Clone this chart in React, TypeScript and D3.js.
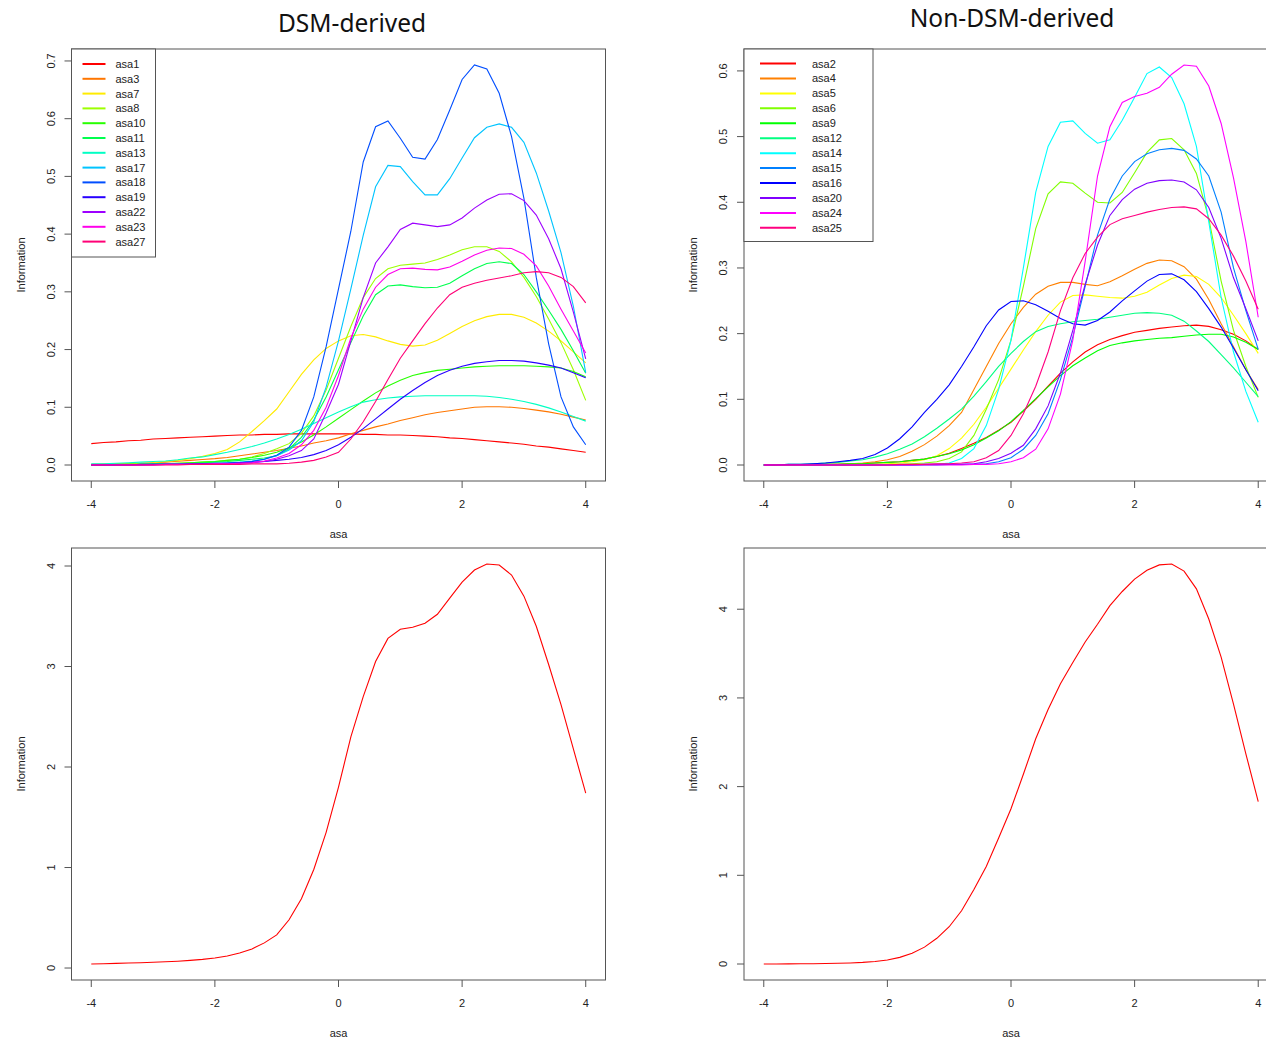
import React from 'react';
import * as d3 from 'd3';

// ability grid used by all information curves
const THETA = [
  -4, -3.8, -3.6, -3.4, -3.2, -3, -2.8, -2.6, -2.4, -2.2,
  -2, -1.8, -1.6, -1.4, -1.2, -1, -0.8, -0.6, -0.4, -0.2,
  0, 0.2, 0.4, 0.6, 0.8, 1, 1.2, 1.4, 1.6, 1.8,
  2, 2.2, 2.4, 2.6, 2.8, 3, 3.2, 3.4, 3.6, 3.8,
  4,
];

// DSM-derived item information
const asa1 = [0.037, 0.039, 0.040, 0.042, 0.043, 0.045, 0.046, 0.047, 0.048, 0.049, 0.050, 0.051, 0.052, 0.052, 0.053, 0.053, 0.054, 0.054, 0.054, 0.054, 0.054, 0.054, 0.053, 0.053, 0.052, 0.052, 0.051, 0.050, 0.049, 0.047, 0.046, 0.044, 0.042, 0.040, 0.038, 0.036, 0.033, 0.031, 0.028, 0.025, 0.022];
const asa3 = [0.001, 0.0015, 0.002, 0.0025, 0.003, 0.004, 0.005, 0.0065, 0.008, 0.0095, 0.011, 0.013, 0.016, 0.019, 0.022, 0.025, 0.029, 0.033, 0.038, 0.042, 0.047, 0.054, 0.060, 0.066, 0.071, 0.077, 0.082, 0.087, 0.091, 0.094, 0.097, 0.100, 0.101, 0.101, 0.100, 0.098, 0.095, 0.092, 0.088, 0.083, 0.078];
const asa7 = [0, 0.001, 0.001, 0.002, 0.003, 0.004, 0.006, 0.008, 0.011, 0.015, 0.020, 0.027, 0.040, 0.058, 0.077, 0.097, 0.127, 0.157, 0.182, 0.202, 0.215, 0.224, 0.226, 0.222, 0.215, 0.209, 0.206, 0.208, 0.216, 0.228, 0.240, 0.250, 0.257, 0.261, 0.261, 0.256, 0.246, 0.232, 0.215, 0.196, 0.177];
const asa8 = [0, 0, 0.001, 0.001, 0.001, 0.002, 0.002, 0.003, 0.004, 0.005, 0.006, 0.008, 0.010, 0.014, 0.020, 0.028, 0.037, 0.055, 0.085, 0.130, 0.185, 0.240, 0.290, 0.323, 0.340, 0.346, 0.348, 0.350, 0.356, 0.364, 0.373, 0.378, 0.378, 0.370, 0.352, 0.325, 0.292, 0.253, 0.212, 0.165, 0.112];
const asa10 = [0, 0, 0.001, 0.001, 0.001, 0.002, 0.002, 0.003, 0.004, 0.005, 0.006, 0.008, 0.010, 0.013, 0.017, 0.022, 0.030, 0.040, 0.052, 0.066, 0.081, 0.096, 0.111, 0.125, 0.137, 0.147, 0.155, 0.160, 0.164, 0.166, 0.168, 0.170, 0.171, 0.172, 0.172, 0.172, 0.171, 0.170, 0.168, 0.162, 0.153];
const asa11 = [0, 0, 0, 0.001, 0.001, 0.001, 0.002, 0.002, 0.003, 0.004, 0.005, 0.006, 0.008, 0.010, 0.012, 0.016, 0.028, 0.048, 0.078, 0.118, 0.165, 0.212, 0.258, 0.295, 0.310, 0.312, 0.309, 0.307, 0.308, 0.315, 0.328, 0.340, 0.349, 0.352, 0.349, 0.330, 0.300, 0.268, 0.235, 0.198, 0.159];
const asa13 = [0.002, 0.002, 0.003, 0.004, 0.005, 0.006, 0.007, 0.009, 0.012, 0.014, 0.018, 0.022, 0.027, 0.032, 0.038, 0.045, 0.053, 0.062, 0.072, 0.082, 0.092, 0.101, 0.109, 0.113, 0.116, 0.118, 0.119, 0.120, 0.120, 0.120, 0.120, 0.120, 0.119, 0.117, 0.114, 0.110, 0.105, 0.099, 0.092, 0.084, 0.076];
const asa17 = [0, 0, 0, 0, 0.001, 0.001, 0.001, 0.001, 0.002, 0.002, 0.003, 0.004, 0.005, 0.007, 0.010, 0.016, 0.026, 0.042, 0.075, 0.135, 0.215, 0.305, 0.398, 0.482, 0.519, 0.517, 0.491, 0.468, 0.468, 0.496, 0.532, 0.567, 0.585, 0.591, 0.585, 0.559, 0.506, 0.440, 0.368, 0.275, 0.160];
const asa18 = [0, 0, 0, 0, 0, 0.001, 0.001, 0.001, 0.001, 0.002, 0.002, 0.003, 0.004, 0.006, 0.010, 0.017, 0.031, 0.060, 0.118, 0.205, 0.305, 0.405, 0.525, 0.586, 0.596, 0.566, 0.533, 0.530, 0.564, 0.615, 0.668, 0.693, 0.686, 0.644, 0.569, 0.462, 0.325, 0.210, 0.118, 0.066, 0.035];
const asa19 = [0, 0, 0, 0, 0.001, 0.001, 0.001, 0.001, 0.002, 0.002, 0.003, 0.003, 0.004, 0.005, 0.006, 0.008, 0.010, 0.013, 0.018, 0.025, 0.035, 0.048, 0.063, 0.080, 0.097, 0.114, 0.129, 0.143, 0.155, 0.164, 0.171, 0.176, 0.179, 0.181, 0.181, 0.180, 0.177, 0.173, 0.168, 0.160, 0.151];
const asa22 = [0, 0, 0, 0, 0, 0, 0.001, 0.001, 0.001, 0.001, 0.002, 0.002, 0.003, 0.004, 0.006, 0.010, 0.016, 0.025, 0.045, 0.090, 0.140, 0.215, 0.290, 0.350, 0.378, 0.408, 0.419, 0.416, 0.413, 0.416, 0.428, 0.445, 0.459, 0.469, 0.470, 0.458, 0.433, 0.392, 0.340, 0.265, 0.184];
const asa23 = [0, 0, 0, 0, 0, 0, 0.001, 0.001, 0.001, 0.001, 0.002, 0.002, 0.003, 0.004, 0.007, 0.012, 0.020, 0.035, 0.060, 0.100, 0.155, 0.220, 0.270, 0.308, 0.330, 0.340, 0.341, 0.339, 0.338, 0.343, 0.353, 0.364, 0.372, 0.376, 0.375, 0.365, 0.345, 0.310, 0.270, 0.232, 0.194];
const asa27 = [0, 0, 0, 0, 0, 0, 0, 0, 0.001, 0.001, 0.001, 0.001, 0.001, 0.002, 0.002, 0.002, 0.003, 0.005, 0.008, 0.014, 0.022, 0.045, 0.075, 0.110, 0.148, 0.185, 0.215, 0.245, 0.272, 0.295, 0.308, 0.315, 0.320, 0.324, 0.328, 0.333, 0.335, 0.333, 0.325, 0.309, 0.281];

// Non-DSM-derived item information
const asa2 = [0, 0, 0, 0, 0.001, 0.001, 0.001, 0.002, 0.002, 0.003, 0.004, 0.005, 0.007, 0.009, 0.013, 0.018, 0.025, 0.033, 0.042, 0.053, 0.065, 0.082, 0.100, 0.120, 0.140, 0.157, 0.172, 0.183, 0.191, 0.197, 0.202, 0.205, 0.208, 0.210, 0.212, 0.213, 0.211, 0.206, 0.199, 0.189, 0.176];
const asa4 = [0, 0, 0, 0, 0, 0.001, 0.001, 0.002, 0.003, 0.005, 0.008, 0.013, 0.021, 0.031, 0.044, 0.060, 0.080, 0.115, 0.150, 0.185, 0.215, 0.240, 0.260, 0.272, 0.278, 0.278, 0.275, 0.273, 0.279, 0.288, 0.298, 0.307, 0.312, 0.311, 0.302, 0.283, 0.252, 0.215, 0.180, 0.145, 0.115];
const asa5 = [0, 0, 0, 0, 0, 0, 0, 0.001, 0.001, 0.001, 0.002, 0.003, 0.005, 0.008, 0.014, 0.025, 0.041, 0.062, 0.088, 0.117, 0.146, 0.175, 0.203, 0.228, 0.248, 0.258, 0.259, 0.257, 0.255, 0.254, 0.257, 0.263, 0.274, 0.284, 0.289, 0.287, 0.275, 0.255, 0.228, 0.200, 0.170];
const asa6 = [0, 0, 0, 0, 0, 0, 0, 0, 0, 0, 0.001, 0.001, 0.002, 0.003, 0.005, 0.010, 0.020, 0.045, 0.085, 0.130, 0.190, 0.272, 0.360, 0.413, 0.431, 0.429, 0.414, 0.400, 0.399, 0.415, 0.445, 0.476, 0.495, 0.497, 0.480, 0.444, 0.375, 0.280, 0.205, 0.150, 0.103];
const asa9 = [0, 0, 0, 0, 0.001, 0.001, 0.001, 0.002, 0.002, 0.003, 0.004, 0.005, 0.007, 0.009, 0.013, 0.017, 0.023, 0.031, 0.041, 0.052, 0.066, 0.083, 0.101, 0.119, 0.136, 0.151, 0.163, 0.174, 0.182, 0.186, 0.189, 0.191, 0.193, 0.194, 0.196, 0.198, 0.199, 0.199, 0.195, 0.187, 0.176];
const asa12 = [0, 0, 0.001, 0.001, 0.002, 0.003, 0.004, 0.006, 0.008, 0.012, 0.017, 0.024, 0.032, 0.043, 0.056, 0.070, 0.085, 0.105, 0.127, 0.150, 0.170, 0.188, 0.203, 0.211, 0.215, 0.218, 0.220, 0.222, 0.225, 0.228, 0.231, 0.232, 0.231, 0.228, 0.219, 0.204, 0.188, 0.168, 0.148, 0.126, 0.104];
const asa14 = [0, 0, 0, 0, 0, 0, 0, 0, 0, 0, 0, 0, 0, 0.001, 0.001, 0.003, 0.010, 0.025, 0.060, 0.115, 0.190, 0.300, 0.415, 0.485, 0.522, 0.524, 0.505, 0.490, 0.495, 0.525, 0.560, 0.596, 0.606, 0.590, 0.550, 0.485, 0.370, 0.255, 0.172, 0.112, 0.065];
const asa15 = [0, 0, 0, 0, 0, 0, 0, 0, 0, 0, 0, 0, 0, 0, 0, 0.001, 0.001, 0.001, 0.002, 0.005, 0.011, 0.024, 0.045, 0.078, 0.130, 0.195, 0.272, 0.350, 0.405, 0.440, 0.462, 0.474, 0.480, 0.482, 0.479, 0.466, 0.440, 0.385, 0.300, 0.235, 0.176];
const asa16 = [0, 0, 0.001, 0.001, 0.002, 0.003, 0.005, 0.007, 0.010, 0.016, 0.026, 0.040, 0.058, 0.080, 0.100, 0.122, 0.150, 0.180, 0.212, 0.236, 0.249, 0.250, 0.244, 0.234, 0.223, 0.215, 0.213, 0.220, 0.233, 0.250, 0.265, 0.280, 0.290, 0.291, 0.282, 0.264, 0.238, 0.210, 0.178, 0.145, 0.113];
const asa20 = [0, 0, 0, 0, 0, 0, 0, 0, 0, 0, 0, 0, 0, 0.001, 0.001, 0.001, 0.001, 0.002, 0.005, 0.010, 0.018, 0.030, 0.055, 0.090, 0.140, 0.205, 0.275, 0.335, 0.380, 0.404, 0.420, 0.429, 0.433, 0.434, 0.431, 0.419, 0.392, 0.345, 0.285, 0.238, 0.189];
const asa24 = [0, 0, 0, 0, 0, 0, 0, 0, 0, 0, 0, 0, 0, 0, 0, 0, 0, 0.001, 0.001, 0.002, 0.005, 0.011, 0.024, 0.055, 0.108, 0.190, 0.310, 0.440, 0.515, 0.552, 0.561, 0.566, 0.575, 0.595, 0.609, 0.607, 0.577, 0.520, 0.437, 0.340, 0.225];
const asa25 = [0, 0, 0, 0, 0, 0, 0, 0, 0, 0, 0, 0.001, 0.001, 0.001, 0.002, 0.002, 0.003, 0.005, 0.011, 0.022, 0.045, 0.078, 0.120, 0.172, 0.235, 0.285, 0.322, 0.347, 0.366, 0.375, 0.380, 0.385, 0.389, 0.392, 0.393, 0.390, 0.375, 0.350, 0.318, 0.280, 0.237];

// test information
const testInfoDSM = [0.04, 0.043, 0.046, 0.05, 0.053, 0.057, 0.062, 0.068, 0.076, 0.086, 0.10, 0.12, 0.15, 0.19, 0.25, 0.33, 0.48, 0.69, 0.98, 1.35, 1.80, 2.30, 2.70, 3.05, 3.28, 3.37, 3.39, 3.43, 3.52, 3.68, 3.84, 3.96, 4.02, 4.01, 3.91, 3.70, 3.40, 3.02, 2.62, 2.18, 1.74];
const testInfoNonDSM = [0, 0, 0.001, 0.002, 0.003, 0.005, 0.008, 0.012, 0.018, 0.028, 0.045, 0.075, 0.12, 0.19, 0.29, 0.42, 0.60, 0.84, 1.10, 1.42, 1.75, 2.14, 2.54, 2.87, 3.16, 3.40, 3.63, 3.83, 4.04, 4.20, 4.34, 4.44, 4.50, 4.51, 4.43, 4.23, 3.89, 3.46, 2.93, 2.37, 1.83];

const DSM_NAMES = ['asa1', 'asa3', 'asa7', 'asa8', 'asa10', 'asa11', 'asa13', 'asa17', 'asa18', 'asa19', 'asa22', 'asa23', 'asa27'];
const DSM_VALUES = [asa1, asa3, asa7, asa8, asa10, asa11, asa13, asa17, asa18, asa19, asa22, asa23, asa27];
const NON_NAMES = ['asa2', 'asa4', 'asa5', 'asa6', 'asa9', 'asa12', 'asa14', 'asa15', 'asa16', 'asa20', 'asa24', 'asa25'];
const NON_VALUES = [asa2, asa4, asa5, asa6, asa9, asa12, asa14, asa15, asa16, asa20, asa24, asa25];

const X_TICKS = [-4, -2, 0, 2, 4];
const Y_TICKS_DSM = [0, 0.1, 0.2, 0.3, 0.4, 0.5, 0.6, 0.7];
const Y_TICKS_NON = [0, 0.1, 0.2, 0.3, 0.4, 0.5, 0.6];
const Y_TICKS_TEST = [0, 1, 2, 3, 4];

// R's rainbow(n)
const rainbow = (n: number) => d3.range(n).map(i => d3.hsl((i * 360) / n, 1, 0.5).formatHex());

const AXIS_FONT = '"Liberation Sans", Arial, sans-serif';

type Series = { name: string; values: number[]; color: string };

function Panel({ left, top, width, height, series, yTicks, yFormat, legend }: {
  left: number; top: number; width: number; height: number;
  series: Series[]; yTicks: number[]; yFormat: (v: number) => string;
  legend?: { width: number; height: number; lineX0: number; lineX1: number; textX: number; firstY: number; step: number };
}) {
  const right = left + width;
  const bottom = top + height;
  const x = d3.scaleLinear().domain([-4.32, 4.32]).range([left, right]);
  const all = series.flatMap(s => s.values);
  const lo = d3.min(all) as number;
  const hi = d3.max(all) as number;
  const pad = (hi - lo) * 0.04;
  const y = d3.scaleLinear().domain([lo - pad, hi + pad]).range([bottom, top]);
  const line = d3.line<number>().x((_, i) => x(THETA[i])).y(d => y(d));

  return (
    <g fontFamily={AXIS_FONT} fontSize={11} fill="#222">
      {series.map(s => (
        <path key={s.name} d={line(s.values) || ''} fill="none" stroke={s.color} strokeWidth={1.1} />
      ))}
      <rect x={left} y={top} width={width} height={height} fill="none" stroke="#555" strokeWidth={1} />
      {X_TICKS.map(t => (
        <g key={t}>
          <line x1={x(t)} x2={x(t)} y1={bottom} y2={bottom + 7} stroke="#555" />
          <text x={x(t)} y={bottom + 27} textAnchor="middle">{t}</text>
        </g>
      ))}
      {yTicks.map(t => (
        <g key={t}>
          <line x1={left} x2={left - 7} y1={y(t)} y2={y(t)} stroke="#555" />
          <text transform={`translate(${left - 17},${y(t)}) rotate(-90)`} textAnchor="middle">{yFormat(t)}</text>
        </g>
      ))}
      <text x={x(0)} y={bottom + 57} textAnchor="middle">asa</text>
      <text transform={`translate(${left - 47},${(top + bottom) / 2}) rotate(-90)`} textAnchor="middle">Information</text>
      {legend && (
        <g>
          <rect x={left} y={top} width={legend.width} height={legend.height} fill="#fff" stroke="#555" />
          {series.map((s, i) => (
            <g key={s.name}>
              <line x1={left + legend.lineX0} x2={left + legend.lineX1}
                y1={top + legend.firstY + i * legend.step} y2={top + legend.firstY + i * legend.step}
                stroke={s.color} strokeWidth={2} />
              <text x={left + legend.textX} y={top + legend.firstY + i * legend.step + 4}>{s.name}</text>
            </g>
          ))}
        </g>
      )}
    </g>
  );
}

export default function App() {
  const dsmColors = rainbow(DSM_NAMES.length);
  const nonColors = rainbow(NON_NAMES.length);
  const dsmSeries = DSM_NAMES.map((name, i) => ({ name, values: DSM_VALUES[i], color: dsmColors[i] }));
  const nonSeries = NON_NAMES.map((name, i) => ({ name, values: NON_VALUES[i], color: nonColors[i] }));
  const fmt1 = d3.format('.1f');
  const fmt0 = d3.format('d');

  return (
    <svg width={1266} height={1042} style={{ position: 'absolute', left: 0, top: 0, background: '#fff' }}>
      <rect width={1266} height={1042} fill="#fff" />
      <text x={352} y={32} textAnchor="middle" fontFamily='"Noto Sans", sans-serif' fontSize={24.5} fill="#111">DSM-derived</text>
      <text x={1012} y={27} textAnchor="middle" fontFamily='"Noto Sans", sans-serif' fontSize={24.5} fill="#111">Non-DSM-derived</text>

      <Panel left={71.5} top={49} width={534} height={432} series={dsmSeries} yTicks={Y_TICKS_DSM} yFormat={fmt1}
        legend={{ width: 84, height: 208, lineX0: 11, lineX1: 34, textX: 44, firstY: 15, step: 14.8 }} />
      <Panel left={744} top={49} width={534} height={432} series={nonSeries} yTicks={Y_TICKS_NON} yFormat={fmt1}
        legend={{ width: 129, height: 192.5, lineX0: 16, lineX1: 52, textX: 68, firstY: 14.5, step: 14.94 }} />
      <Panel left={71.5} top={548} width={534} height={432}
        series={[{ name: 'test', values: testInfoDSM, color: '#ff0000' }]} yTicks={Y_TICKS_TEST} yFormat={fmt0} />
      <Panel left={744} top={548} width={534} height={432}
        series={[{ name: 'test', values: testInfoNonDSM, color: '#ff0000' }]} yTicks={Y_TICKS_TEST} yFormat={fmt0} />
    </svg>
  );
}
